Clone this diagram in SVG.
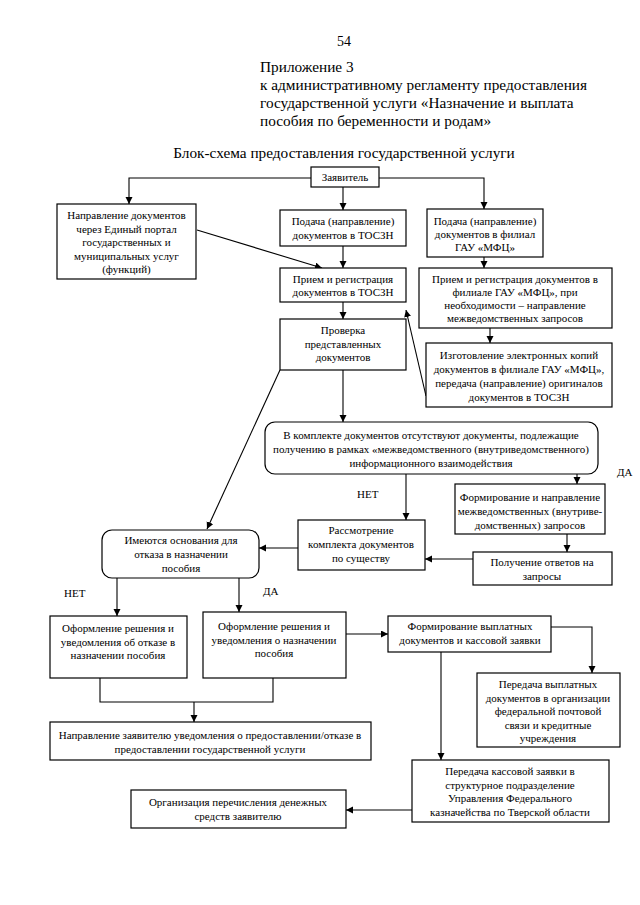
<svg xmlns="http://www.w3.org/2000/svg" width="640" height="905" viewBox="0 0 640 905">
<defs>
<marker id="ah" markerUnits="userSpaceOnUse" markerWidth="8" markerHeight="8" refX="7" refY="3.5" orient="auto">
<path d="M0,0 L7,3.5 L0,7 z" fill="#000"/>
</marker>
</defs>
<style>
.b{fill:#fff;stroke:#000;stroke-width:1.2}
.t{font-family:'Liberation Serif','Times New Roman',serif;font-size:11px;fill:#000;text-anchor:middle}
.h{font-family:'Liberation Serif','Times New Roman',serif;font-size:15.3px;fill:#000}
.l{font-family:'Liberation Serif','Times New Roman',serif;font-size:11px;fill:#000}
.c{fill:none;stroke:#000;stroke-width:1.1}
.a{fill:none;stroke:#000;stroke-width:1.1;marker-end:url(#ah)}
</style>
<rect width="640" height="905" fill="#fff"/>
<g id="header">
<text x="344" y="46" class="h" text-anchor="middle" style="font-size:14px">54</text>
<text x="260" y="72" class="h">Приложение 3</text>
<text x="260" y="90" class="h">к административному регламенту предоставления</text>
<text x="260" y="108" class="h">государственной услуги «Назначение и выплата</text>
<text x="260" y="126" class="h">пособия по беременности и родам»</text>
<text x="344" y="158" class="h" text-anchor="middle">Блок-схема предоставления государственной услуги</text>
</g>
<g id="connectors">
<polyline class="a" points="311,178 129,178 129,204"/>
<polyline class="a" points="379,178 484,178 484,209"/>
<line class="a" x1="343" y1="187" x2="343" y2="210"/>
<line class="a" x1="343" y1="246" x2="343" y2="268"/>
<line class="a" x1="197" y1="230" x2="322" y2="268"/>
<line class="a" x1="484" y1="257" x2="484" y2="268"/>
<line class="a" x1="343" y1="302" x2="343" y2="319"/>
<line class="a" x1="490" y1="328" x2="490" y2="343"/>
<line class="a" x1="426" y1="396" x2="406" y2="310"/>
<line class="a" x1="343" y1="370" x2="343" y2="422"/>
<line class="a" x1="280" y1="370" x2="207" y2="529"/>
<line class="a" x1="406" y1="474" x2="406" y2="520"/>
<line class="a" x1="577" y1="474" x2="577" y2="484"/>
<line class="a" x1="567" y1="534" x2="567" y2="552"/>
<line class="a" x1="473" y1="559" x2="425" y2="559"/>
<line class="a" x1="298" y1="548" x2="259" y2="548"/>
<line class="a" x1="117" y1="578" x2="117" y2="616"/>
<line class="a" x1="239" y1="578" x2="239" y2="612"/>
<line class="a" x1="346" y1="634" x2="388" y2="634"/>
<polyline class="a" points="551,627 592,627 592,673"/>
<polyline class="c" points="100,678 100,702 273,702 273,678"/>
<line class="a" x1="194" y1="702" x2="194" y2="722"/>
<line class="a" x1="441" y1="652" x2="441" y2="760"/>
<line class="a" x1="412" y1="810" x2="346" y2="810"/>
</g>
<g id="labels">
<text x="617" y="476" class="l">ДА</text>
<text x="357" y="498" class="l">НЕТ</text>
<text x="263" y="595" class="l">ДА</text>
<text x="64" y="597" class="l">НЕТ</text>
</g>
<g id="n-zayavitel">
<rect class="b" x="311" y="167" width="68" height="20"/>
<text x="345" y="181" class="t">Заявитель</text>
</g>
<g id="n-portal">
<rect class="b" x="57" y="204" width="139" height="75"/>
<text x="126.5" y="219" class="t">Направление документов</text>
<text x="126.5" y="232.5" class="t">через Единый портал</text>
<text x="126.5" y="246" class="t">государственных и</text>
<text x="126.5" y="259.5" class="t">муниципальных услуг</text>
<text x="126.5" y="273" class="t">(функций)</text>
</g>
<g id="n-podacha-toszn">
<rect class="b" x="280" y="210" width="126" height="36"/>
<text x="343" y="225" class="t">Подача (направление)</text>
<text x="343" y="239" class="t">документов в ТОСЗН</text>
</g>
<g id="n-podacha-mfc">
<rect class="b" x="427" y="209" width="116" height="48"/>
<text x="485" y="225" class="t">Подача (направление)</text>
<text x="485" y="238" class="t">документов в филиал</text>
<text x="485" y="251" class="t">ГАУ «МФЦ»</text>
</g>
<g id="n-priem-toszn">
<rect class="b" x="280" y="268" width="126" height="34"/>
<text x="343" y="283" class="t">Прием и регистрация</text>
<text x="343" y="296" class="t">документов в ТОСЗН</text>
</g>
<g id="n-priem-mfc">
<rect class="b" x="419" y="268" width="193" height="60"/>
<text x="515" y="283" class="t">Прием и регистрация документов в</text>
<text x="515" y="296" class="t">филиале ГАУ «МФЦ», при</text>
<text x="515" y="309" class="t">необходимости – направление</text>
<text x="515" y="322" class="t">межведомственных запросов</text>
</g>
<g id="n-proverka">
<rect class="b" x="280" y="319" width="126" height="51"/>
<text x="343" y="334" class="t">Проверка</text>
<text x="343" y="347.5" class="t">представленных</text>
<text x="343" y="361" class="t">документов</text>
</g>
<g id="n-izgotovlenie">
<rect class="b" x="426" y="343" width="186" height="64"/>
<text x="519" y="359" class="t">Изготовление электронных копий</text>
<text x="519" y="373" class="t">документов в филиале ГАУ «МФЦ»,</text>
<text x="519" y="387" class="t">передача (направление) оригиналов</text>
<text x="519" y="401" class="t">документов в ТОСЗН</text>
</g>
<g id="n-komplekt">
<rect class="b" x="265" y="422" width="333" height="52" rx="10"/>
<text x="431" y="439" class="t">В комплекте документов отсутствуют документы, подлежащие</text>
<text x="431" y="453" class="t">получению в рамках «межведомственного (внутриведомственного)</text>
<text x="431" y="467" class="t">информационного взаимодействия</text>
</g>
<g id="n-formirovanie-zaprosov">
<rect class="b" x="455" y="484" width="150" height="50"/>
<text x="530" y="501" class="t">Формирование и направление</text>
<text x="530" y="515" class="t">межведомственных (внутриве-</text>
<text x="530" y="529" class="t">домственных) запросов</text>
</g>
<g id="n-poluchenie">
<rect class="b" x="473" y="552" width="139" height="33"/>
<text x="542" y="566" class="t">Получение ответов на</text>
<text x="542" y="580" class="t">запросы</text>
</g>
<g id="n-rassmotrenie">
<rect class="b" x="298" y="520" width="127" height="50"/>
<text x="361" y="534" class="t">Рассмотрение</text>
<text x="361" y="548" class="t">комплекта документов</text>
<text x="361" y="562" class="t">по существу</text>
</g>
<g id="n-imeyutsya">
<rect class="b" x="102" y="530" width="157" height="48" rx="10"/>
<text x="181" y="544" class="t">Имеются основания для</text>
<text x="181" y="558" class="t">отказа в назначении</text>
<text x="181" y="572" class="t">пособия</text>
</g>
<g id="n-otkaz">
<rect class="b" x="50" y="616" width="137" height="62"/>
<text x="118" y="632" class="t">Оформление решения и</text>
<text x="118" y="645.5" class="t">уведомления об отказе в</text>
<text x="118" y="659" class="t">назначении пособия</text>
</g>
<g id="n-naznachenie">
<rect class="b" x="203" y="612" width="143" height="66"/>
<text x="274" y="630" class="t">Оформление решения и</text>
<text x="274" y="643.5" class="t">уведомления о назначении</text>
<text x="274" y="657" class="t">пособия</text>
</g>
<g id="n-napravlenie-zayavitelyu">
<rect class="b" x="50" y="722" width="321" height="38"/>
<text x="210" y="739" class="t">Направление заявителю уведомления о предоставлении/отказе в</text>
<text x="210" y="753" class="t">предоставлении государственной услуги</text>
</g>
<g id="n-formirovanie-vyplat">
<rect class="b" x="388" y="616" width="163" height="36"/>
<text x="470" y="630" class="t">Формирование  выплатных</text>
<text x="470" y="644" class="t">документов и кассовой заявки</text>
</g>
<g id="n-peredacha-vyplat">
<rect class="b" x="477" y="673" width="143" height="74"/>
<text x="548" y="688" class="t">Передача  выплатных</text>
<text x="548" y="701.5" class="t">документов в организации</text>
<text x="548" y="715" class="t">федеральной почтовой</text>
<text x="548" y="728.5" class="t">связи и  кредитные</text>
<text x="548" y="742" class="t">учреждения</text>
</g>
<g id="n-peredacha-kassovoy">
<rect class="b" x="412" y="760" width="197" height="62"/>
<text x="510" y="775" class="t">Передача кассовой заявки в</text>
<text x="510" y="788.5" class="t">структурное подразделение</text>
<text x="510" y="802" class="t">Управления Федерального</text>
<text x="510" y="815.5" class="t">казначейства по Тверской области</text>
</g>
<g id="n-organizaciya">
<rect class="b" x="131" y="790" width="215" height="38"/>
<text x="238" y="806" class="t">Организация перечисления денежных</text>
<text x="238" y="820" class="t">средств заявителю</text>
</g>
</svg>
